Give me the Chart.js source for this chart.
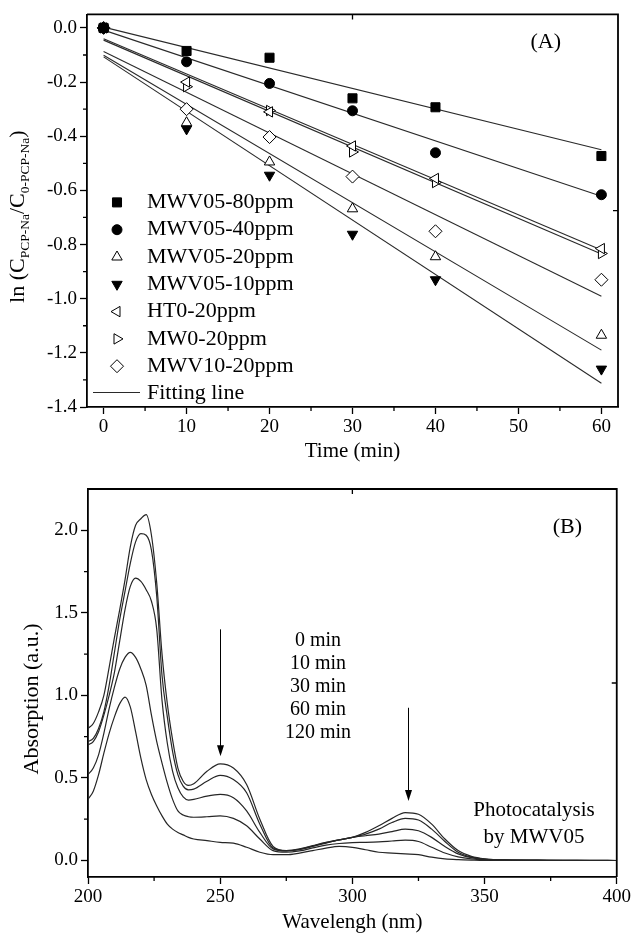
<!DOCTYPE html>
<html>
<head>
<meta charset="utf-8">
<script src="https://cdn.jsdelivr.net/npm/chart.js@4.4.0/dist/chart.umd.min.js"></script>
<style>
  html, body { margin: 0; padding: 0; background: #fff; }
  #boxA { position: absolute; left: 0; top: 0; }
  #boxB { position: absolute; left: 0; top: 470px; }
</style>
</head>
<body>
<div id="boxA"><canvas id="chartA" width="633" height="470"></canvas></div>
<div id="boxB"><canvas id="chartB" width="633" height="464"></canvas></div>
<script>
// ---- panel (A): ln(C/C0) vs time ----
var timeMin = [0, 10, 20, 30, 40, 60];
var seriesNames = ["MWV05-80ppm", "MWV05-40ppm", "MWV05-20ppm", "MWV05-10ppm", "HT0-20ppm", "MW0-20ppm", "MWV10-20ppm"];
var mwv05_80 = [0, -0.085, -0.11, -0.26, -0.293, -0.473];
var mwv05_40 = [0, -0.125, -0.205, -0.306, -0.461, -0.616];
var mwv05_20 = [0, -0.35, -0.495, -0.668, -0.845, -1.135];
var mwv05_10 = [0, -0.373, -0.544, -0.762, -0.93, -1.26];
var ht0_20 = [0, -0.20, -0.31, -0.436, -0.556, -0.815];
var mw0_20 = [0, -0.217, -0.305, -0.458, -0.571, -0.833];
var mwv10_20 = [0, -0.30, -0.403, -0.549, -0.751, -0.93];
// fitting lines, value at t=0 and t=60
var fitT = [0, 60];
var fitStart = [0.003, -0.008, -0.101, -0.107, -0.04, -0.045, -0.087];
var fitEnd = [-0.45, -0.622, -1.19, -1.312, -0.82, -0.835, -0.991];
var timeTicks = [0, 10, 20, 30, 40, 50, 60];
var timeMinor = [5, 15, 25, 35, 45, 55];
var lnTicks = [0, -0.2, -0.4, -0.6, -0.8, -1.0, -1.2, -1.4];
var lnMinor = [-0.1, -0.3, -0.5, -0.7, -0.9, -1.1, -1.3];

// ---- panel (B): UV-vis spectra ----
var wavelength = [200, 202, 204, 206, 208, 210, 212, 214, 216, 218, 220, 222, 224, 226, 228, 230, 232, 234, 236, 238, 240,
  245, 250, 255, 260, 265, 270, 275, 280, 285, 290, 295, 300, 305, 310, 315, 320, 325, 330, 335, 340, 345, 350,
  360, 370, 380, 390, 400];
var abs0 = [0.80, 0.83, 0.90, 1.00, 1.17, 1.35, 1.52, 1.70, 1.90, 2.03, 2.07, 2.095, 1.97, 1.68, 1.25, 0.95, 0.73, 0.56, 0.48, 0.455, 0.465,
  0.54, 0.585, 0.56, 0.46, 0.25, 0.085, 0.06, 0.07, 0.09, 0.11, 0.125, 0.14, 0.17, 0.21, 0.255, 0.29, 0.28, 0.22, 0.13, 0.06, 0.025, 0.01,
  0.003, 0.002, 0.001, 0.001, 0.0];
var abs10 = [0.72, 0.74, 0.80, 0.90, 1.06, 1.26, 1.46, 1.63, 1.80, 1.93, 1.98, 1.97, 1.88, 1.60, 1.12, 0.87, 0.66, 0.52, 0.45, 0.428, 0.432,
  0.48, 0.515, 0.49, 0.41, 0.22, 0.075, 0.058, 0.068, 0.088, 0.108, 0.124, 0.14, 0.16, 0.19, 0.23, 0.255, 0.245, 0.19, 0.115, 0.05, 0.02, 0.008,
  0.003, 0.002, 0.001, 0.001, 0.0];
var abs30 = [0.70, 0.72, 0.78, 0.88, 1.00, 1.14, 1.33, 1.52, 1.66, 1.71, 1.69, 1.64, 1.57, 1.40, 0.97, 0.71, 0.54, 0.44, 0.385, 0.366, 0.37,
  0.39, 0.40, 0.38, 0.30, 0.17, 0.07, 0.058, 0.065, 0.085, 0.105, 0.125, 0.14, 0.15, 0.16, 0.175, 0.19, 0.18, 0.14, 0.085, 0.04, 0.017, 0.007,
  0.002, 0.001, 0.001, 0.0, 0.0];
var abs60 = [0.52, 0.56, 0.64, 0.77, 0.92, 1.05, 1.16, 1.23, 1.26, 1.23, 1.16, 1.06, 0.88, 0.72, 0.59, 0.47, 0.37, 0.30, 0.275, 0.265, 0.262,
  0.265, 0.27, 0.255, 0.21, 0.13, 0.06, 0.05, 0.058, 0.076, 0.093, 0.103, 0.108, 0.11, 0.113, 0.118, 0.123, 0.115, 0.08, 0.045, 0.022, 0.01, 0.005,
  0.002, 0.001, 0.0, 0.0, 0.0];
var abs120 = [0.37, 0.42, 0.52, 0.65, 0.77, 0.87, 0.95, 0.99, 0.93, 0.78, 0.62, 0.49, 0.40, 0.33, 0.27, 0.22, 0.19, 0.17, 0.155, 0.14, 0.13,
  0.12, 0.11, 0.105, 0.08, 0.05, 0.035, 0.035, 0.045, 0.06, 0.075, 0.085, 0.08, 0.065, 0.05, 0.045, 0.04, 0.035, 0.02, 0.01, 0.005, 0.002, 0.0,
  0.0, 0.0, 0.0, 0.0, 0.0];
var timeLabels = ["0 min", "10 min", "30 min", "60 min", "120 min"];
var waveTicks = [200, 250, 300, 350, 400];
var waveMinor = [225, 275, 325, 375];
var absTicks = [0, 0.5, 1.0, 1.5, 2.0];
var absMinor = [0.25, 0.75, 1.25, 1.75];

var serif = "'Liberation Serif', 'Times New Roman', serif";
Chart.defaults.font.family = serif;
Chart.defaults.color = "#000";

function pts(xs, ys) {
  return xs.map(function (x, i) { return {x: x, y: ys[i]}; });
}

function txt(ctx, s, x, y, size, align) {
  ctx.font = size + "px " + serif;
  ctx.textAlign = align || "center";
  ctx.textBaseline = "middle";
  ctx.fillStyle = "#000";
  ctx.fillText(s, x, y);
}

// frame on top/right, minor ticks and the single middle ticks of the top/right axes
var frameTicks = {
  id: "frameTicks",
  afterDatasetsDraw: function (chart, args, o) {
    var a = chart.chartArea, ctx = chart.ctx, xs = chart.scales.x, ys = chart.scales.y;
    ctx.save();
    ctx.strokeStyle = "#000";
    ctx.lineWidth = 1.8;
    ctx.beginPath();
    ctx.moveTo(a.left, a.top);
    ctx.lineTo(a.right, a.top);
    ctx.lineTo(a.right, a.bottom);
    ctx.stroke();
    ctx.lineWidth = 1.3;
    ctx.beginPath();
    o.xMinor.forEach(function (v) {
      var p = xs.getPixelForValue(v);
      ctx.moveTo(p, a.bottom); ctx.lineTo(p, a.bottom + 4);
    });
    o.yMinor.forEach(function (v) {
      var p = ys.getPixelForValue(v);
      ctx.moveTo(a.left, p); ctx.lineTo(a.left - 4, p);
    });
    var mx = (a.left + a.right) / 2, my = (a.top + a.bottom) / 2;
    ctx.moveTo(mx, a.top); ctx.lineTo(mx, a.top + 5);
    ctx.moveTo(a.right, my); ctx.lineTo(a.right - 5, my);
    ctx.stroke();
    ctx.restore();
  }
};

function axisOpts(min, max, major, fmt, fitSize, isX, pad) {
  return {
    type: "linear",
    min: min,
    max: max,
    afterBuildTicks: function (s) { s.ticks = major.map(function (v) { return {value: v}; }); },
    afterFit: function (s) { if (isX) s.height = fitSize; else s.width = fitSize; },
    ticks: {
      font: {size: 19},
      color: "#000",
      padding: pad,
      autoSkip: false,
      maxRotation: 0,
      callback: fmt
    },
    grid: {drawOnChartArea: false, tickLength: 7, tickColor: "#000", tickWidth: 1.3},
    border: {color: "#000", width: 1.8}
  };
}

// ---------------- chart A ----------------
var markerStyles = [
  {pointStyle: "rect", radius: 6.4, rotation: 0, fill: "#000"},
  {pointStyle: "circle", radius: 5, rotation: 0, fill: "#000"},
  {pointStyle: "triangle", radius: 6, rotation: 0, fill: "#fff"},
  {pointStyle: "triangle", radius: 6, rotation: 180, fill: "#000"},
  {pointStyle: "triangle", radius: 6, rotation: 270, fill: "#fff"},
  {pointStyle: "triangle", radius: 6, rotation: 90, fill: "#fff"},
  {pointStyle: "rectRot", radius: 6.5, rotation: 0, fill: "#fff"}
];
var seriesA = [mwv05_80, mwv05_40, mwv05_20, mwv05_10, ht0_20, mw0_20, mwv10_20];

var dsA = [];
seriesA.forEach(function (vals, i) {
  var m = markerStyles[i];
  dsA.push({
    type: "scatter",
    label: seriesNames[i],
    data: pts(timeMin, vals),
    pointStyle: m.pointStyle,
    pointRadius: m.radius,
    rotation: m.rotation,
    pointBackgroundColor: m.fill,
    pointBorderColor: "#000",
    pointBorderWidth: 1,
    order: 1
  });
});
seriesA.forEach(function (vals, i) {
  dsA.push({
    type: "line",
    label: "fit " + seriesNames[i],
    data: pts(fitT, [fitStart[i], fitEnd[i]]),
    borderColor: "#2a2a2a",
    borderWidth: 1.1,
    pointRadius: 0,
    fill: false,
    order: 2
  });
});

var textA = {
  id: "textA",
  afterDraw: function (chart) {
    var ctx = chart.ctx, a = chart.chartArea, xs = chart.scales.x, ys = chart.scales.y;
    ctx.save();
    // y title with subscripts
    var parts = [["ln (C", 22, 0], ["PCP-Na", 13.5, 5], ["/C", 22, 0], ["0-PCP-Na", 13.5, 5], [")", 22, 0]];
    var w = 0;
    parts.forEach(function (p) { ctx.font = p[1] + "px " + serif; w += ctx.measureText(p[0]).width; });
    ctx.translate(17, (a.top + a.bottom) / 2 + 6);
    ctx.rotate(-Math.PI / 2);
    ctx.textAlign = "left";
    ctx.textBaseline = "alphabetic";
    ctx.fillStyle = "#000";
    var x = -w / 2;
    parts.forEach(function (p) {
      ctx.font = p[1] + "px " + serif;
      ctx.fillText(p[0], x, 7 + p[2]);
      x += ctx.measureText(p[0]).width;
    });
    ctx.restore();

    ctx.save();
    txt(ctx, "Time (min)", (a.left + a.right) / 2, a.bottom + 44, 21);
    txt(ctx, "(A)", xs.getPixelForValue(53.3), ys.getPixelForValue(-0.052), 22);

    // legend
    var mx = a.left + 30, tx = a.left + 60, y0 = a.top + 188, rowH = 27.3;
    seriesNames.forEach(function (name, i) {
      var m = markerStyles[i], y = y0 + i * rowH;
      ctx.fillStyle = m.fill;
      ctx.strokeStyle = "#000";
      ctx.lineWidth = 1;
      Chart.helpers.drawPoint(ctx, {pointStyle: m.pointStyle, radius: m.radius, rotation: m.rotation, borderWidth: 1}, mx, y);
      txt(ctx, name, tx, y, 22, "left");
    });
    var yl = y0 + seriesNames.length * rowH;
    ctx.strokeStyle = "#2a2a2a";
    ctx.lineWidth = 1.1;
    ctx.beginPath();
    ctx.moveTo(a.left + 6, yl - 1);
    ctx.lineTo(a.left + 53, yl - 1);
    ctx.stroke();
    txt(ctx, "Fitting line", tx, yl, 22, "left");
    ctx.restore();
  }
};

new Chart(document.getElementById("chartA"), {
  data: {datasets: dsA},
  options: {
    responsive: false,
    animation: false,
    layout: {padding: {left: 0, right: 15, top: 10, bottom: 0}},
    plugins: {
      legend: {display: false},
      tooltip: {enabled: false},
      frameTicks: {xMinor: timeMinor, yMinor: lnMinor}
    },
    scales: {
      x: axisOpts(-2, 62, timeTicks, function (v) { return String(v); }, 63, true, 2),
      y: axisOpts(-1.4, 0.05, lnTicks, function (v) { return v.toFixed(1); }, 87, false, 3)
    }
  },
  plugins: [frameTicks, textA]
});

// ---------------- chart B ----------------
var seriesB = [abs0, abs10, abs30, abs60, abs120];
var dsB = seriesB.map(function (vals, i) {
  return {
    type: "line",
    label: timeLabels[i],
    data: pts(wavelength, vals),
    borderColor: "#262626",
    borderWidth: 1.2,
    pointRadius: 0,
    fill: false,
    cubicInterpolationMode: "monotone"
  };
});

// arrows: wavelength, start and end absorbance
var arrowsB = [[250, 1.40, 0.632], [321, 0.925, 0.36]];

var textB = {
  id: "textB",
  afterDraw: function (chart) {
    var ctx = chart.ctx, a = chart.chartArea, xs = chart.scales.x, ys = chart.scales.y;
    ctx.save();
    // arrows
    ctx.strokeStyle = "#000";
    ctx.fillStyle = "#000";
    ctx.lineWidth = 1;
    arrowsB.forEach(function (ar) {
      var x = Math.round(xs.getPixelForValue(ar[0])) + 0.5, y1 = ys.getPixelForValue(ar[1]), y2 = ys.getPixelForValue(ar[2]);
      ctx.beginPath();
      ctx.moveTo(x, y1);
      ctx.lineTo(x, y2 - 8);
      ctx.stroke();
      ctx.beginPath();
      ctx.moveTo(x - 3.5, y2 - 11);
      ctx.lineTo(x + 3.5, y2 - 11);
      ctx.lineTo(x, y2);
      ctx.closePath();
      ctx.fill();
    });
    // time labels
    var lx = xs.getPixelForValue(287), ly = ys.getPixelForValue(1.33);
    timeLabels.forEach(function (s, i) { txt(ctx, s, lx, ly + i * 23, 20); });
    txt(ctx, "(B)", xs.getPixelForValue(381.3), ys.getPixelForValue(2.02), 22);
    txt(ctx, "Photocatalysis", xs.getPixelForValue(368.7), ys.getPixelForValue(0.30), 21);
    txt(ctx, "by MWV05", xs.getPixelForValue(368.7), ys.getPixelForValue(0.138), 21);
    // axis titles
    txt(ctx, "Wavelengh (nm)", (a.left + a.right) / 2, a.bottom + 45, 21);
    ctx.translate(32, (a.top + a.bottom) / 2 + 16);
    ctx.rotate(-Math.PI / 2);
    txt(ctx, "Absorption (a.u.)", 0, 0, 22);
    ctx.restore();
  }
};

new Chart(document.getElementById("chartB"), {
  data: {datasets: dsB},
  options: {
    responsive: false,
    animation: false,
    layout: {padding: {left: 0, right: 16, top: 19, bottom: 0}},
    plugins: {
      legend: {display: false},
      tooltip: {enabled: false},
      frameTicks: {xMinor: waveMinor, yMinor: absMinor}
    },
    scales: {
      x: axisOpts(200, 400, waveTicks, function (v) { return String(v); }, 57, true, 2),
      y: axisOpts(-0.1, 2.25, absTicks, function (v) { return v.toFixed(1); }, 88, false, 3)
    }
  },
  plugins: [frameTicks, textB]
});
</script>
</body>
</html>
